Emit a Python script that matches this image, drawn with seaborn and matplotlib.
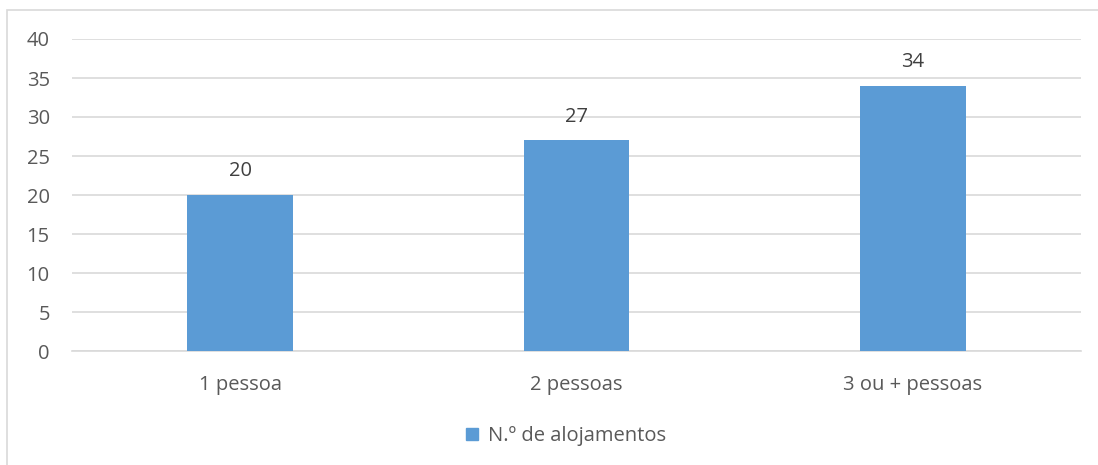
import matplotlib
matplotlib.use("Agg")
import matplotlib.pyplot as plt
import seaborn as sns
import pandas as pd
from matplotlib.patches import Rectangle
from matplotlib.lines import Line2D

categories = ["1 pessoa", "2 pessoas", "3 ou + pessoas"]
values = [20, 27, 34]
series_name = "N.º de alojamentos"
yticks = [0, 5, 10, 15, 20, 25, 30, 35, 40]

sns.set_theme(style="white")
plt.rcParams['font.family'] = ['Open Sans', 'DejaVu Sans']

df = pd.DataFrame({"cat": categories, "val": values})
W, H = 1098, 465
fig = plt.figure(figsize=(W / 100, H / 100), dpi=100)
ax = fig.add_axes([72 / W, 1 - 351 / H, (1081 - 72) / W, (351 - 39) / H])

color = "#5B9BD5"
sns.barplot(data=df, x="cat", y="val", ax=ax, color=color, width=0.315,
            saturation=1, edgecolor="none", zorder=3)

fs = 14.5
ax.set_xlim(-0.5, 2.5)
ax.set_ylim(0, 40)
ax.set_yticks(yticks)
ax.grid(axis="y", color="#D9D9D9", linewidth=1.2, zorder=0)
for s in ["top", "right", "left"]:
    ax.spines[s].set_visible(False)
ax.spines["bottom"].set_color("#D9D9D9")
ax.spines["bottom"].set_linewidth(1.2)
ax.tick_params(axis="both", length=0, colors="#595959", labelsize=fs)
ax.tick_params(axis="y", pad=16)
ax.tick_params(axis="x", pad=17)
ax.set_xlabel("")
ax.set_ylabel("")

for i, v in enumerate(values):
    ax.annotate(str(v), (i, v), xytext=(0, 10), textcoords="offset points",
                ha="center", va="bottom", fontsize=fs, color="#404040")

handle = Line2D([], [], marker="s", linestyle="none", markersize=9,
                markerfacecolor=color, markeredgecolor=color)
fig.legend([handle], [series_name], loc="center", bbox_to_anchor=(559 / W, 1 - 436 / H),
           frameon=False, fontsize=fs, handletextpad=-0.2, labelcolor="#595959")

# outer border
fig.add_artist(Rectangle((7 / W, -0.1), 1.2, 1 - 10 / H + 0.1, transform=fig.transFigure,
                         fill=False, edgecolor="#D9D9D9", linewidth=1.2))

fig.savefig("out.png", dpi=100, facecolor="white")
